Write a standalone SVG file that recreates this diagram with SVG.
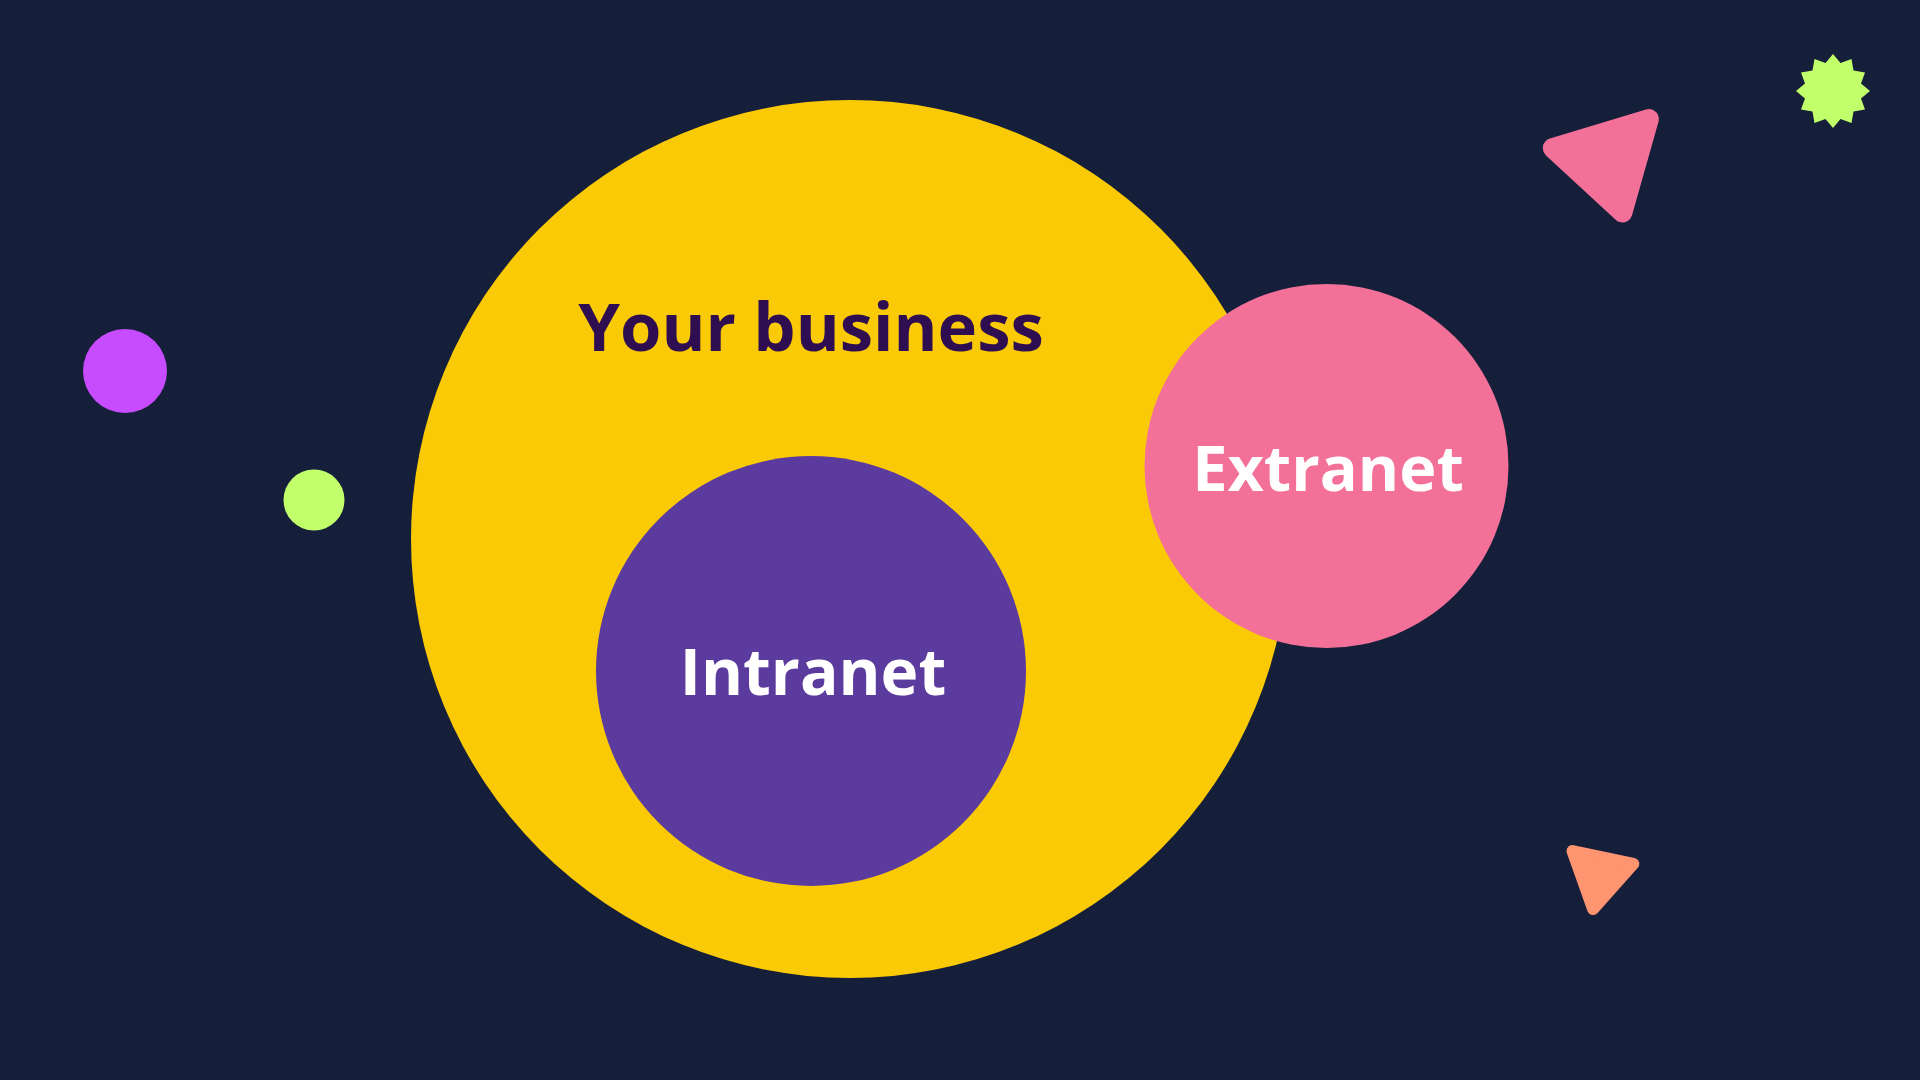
<svg xmlns="http://www.w3.org/2000/svg" width="1920" height="1080" viewBox="0 0 1920 1080">
  <style>
    .label { font-family: "Open Sans", "Noto Sans", "Liberation Sans", sans-serif; font-weight: 700; text-anchor: middle; }
    .dark { fill: #2E0D50; }
    .light { fill: #FFFFFF; }
  </style>
  <rect id="background" x="0" y="0" width="1920" height="1080" fill="#161F3A"/>

  <g id="decorations">
    <circle id="dot-magenta" cx="125" cy="371" r="42" fill="#C84CFF"/>
    <circle id="dot-green" cx="314" cy="500" r="30.5" fill="#C1FF6B"/>
    <polygon id="triangle-pink" points="1552.8,148.1 1648.9,119.1 1622.4,212.4" fill="#F37199" stroke="#F37199" stroke-width="20" stroke-linejoin="round"/>
    <polygon id="triangle-orange" points="1572.5,851 1633.3,863.8 1593.1,909.1" fill="#FF9470" stroke="#FF9470" stroke-width="12" stroke-linejoin="round"/>
    <polygon id="star-green" fill="#C1FF6B" points="1833,54 1840.5,63 1851.5,59 1853.5,70.5 1865,72.5 1861,83.5 1870,91 1861,98.5 1865,109.5 1853.5,111.5 1851.5,123 1840.5,119 1833,128 1825.5,119 1814.5,123 1812.5,111.5 1801,109.5 1805,98.5 1796,91 1805,83.5 1801,72.5 1812.5,70.5 1814.5,59 1825.5,63"/>
  </g>

  <g id="node-your-business">
    <circle cx="850" cy="539" r="439" fill="#FBCA07"/>
    <text class="label dark" x="811" y="351" font-size="67">Your business</text>
  </g>

  <g id="node-intranet">
    <circle cx="811" cy="671" r="215" fill="#5C3B9E"/>
    <text class="label light" x="813" y="695" font-size="64">Intranet</text>
  </g>

  <g id="node-extranet">
    <circle cx="1326.5" cy="466" r="182" fill="#F37199"/>
    <text class="label light" x="1328" y="491" font-size="63">Extranet</text>
  </g>
</svg>
